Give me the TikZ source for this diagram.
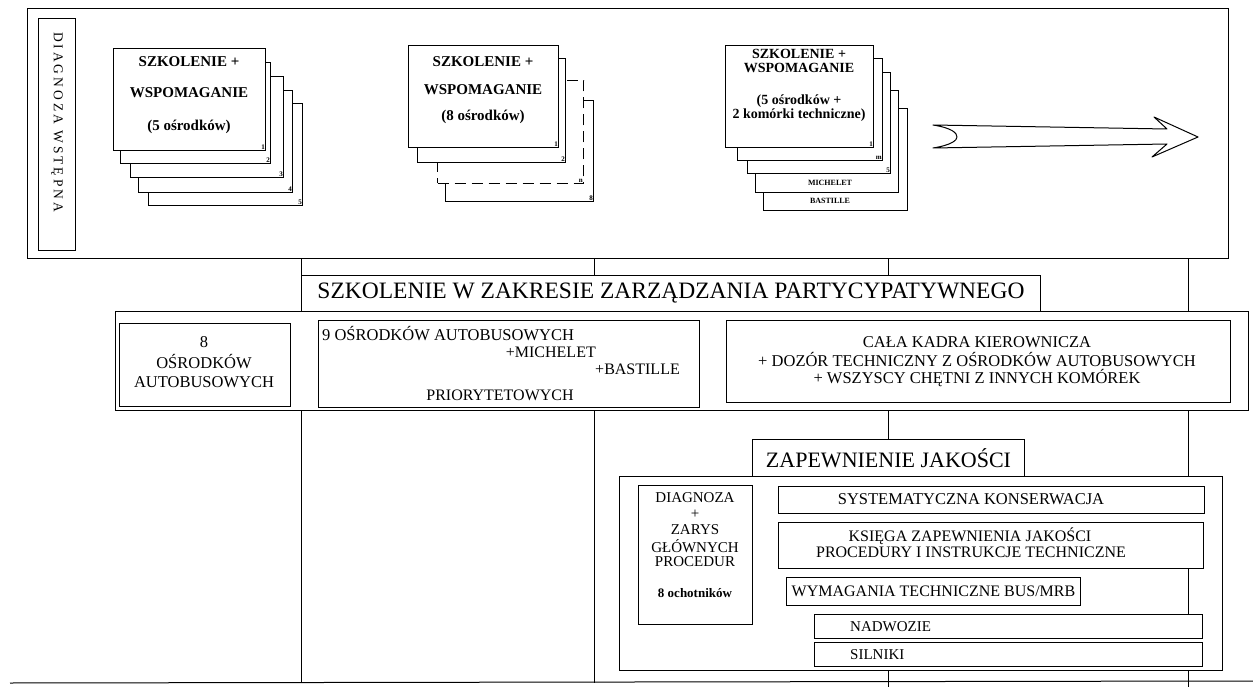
\documentclass[tikz,border=0pt]{standalone}
\usepackage{fontspec}
\setmainfont{Liberation Serif}
\usetikzlibrary{calc}
\newcommand\bx[6][]{\node[box,#1,anchor=north west,minimum width={#4pt-#2pt},minimum height={#5pt-#3pt}] (#6) at (#2,#3) {};}
\newcommand\fs[1]{\fontsize{#1}{#1}\selectfont}
\begin{document}
\begin{tikzpicture}[x=1pt,y=-1pt,
  box/.style={draw,line width=1pt,fill=white,inner sep=0pt},
  dbox/.style={box,dash pattern=on 11pt off 6pt},
  ln/.style={line width=1pt},
  t/.style={inner sep=0pt,font=\fs{16}},
  td/.style={inner sep=0pt,font=\fs{15}},
  tb/.style={inner sep=0pt,font=\fs{15}\bfseries},
  tc/.style={inner sep=0pt,font=\fs{14}\bfseries},
  big/.style={inner sep=0pt,font=\fs{22}},
  num/.style={inner sep=1pt,font=\fs{7}\bfseries,anchor=south east},
  strip/.style={inner sep=0pt,font=\fs{8}\bfseries}]
\useasboundingbox (0,0) rectangle (1253,687);
% columns and bottom
\coordinate (colA) at (301,0);
\coordinate (colB) at (594,0);
\coordinate (colC) at (888,0);
\coordinate (colD) at (1188,0);
\coordinate (bot) at (0,687);
\coordinate (bl) at (10,683);
\coordinate (br) at (1253,681);
\draw[ln] (bl) -- (br);

% top box
\bx{27}{8}{1228}{258}{topbox}
\bx{38}{18}{75}{250}{diagbox}
\node[rotate=-90,inner sep=0pt,font=\fs{13.5}\addfontfeature{LetterSpace=22}] (diagt) at (57,122) {DIAGNOZA WSTĘPNA};

% stack 1
\bx{148}{103}{302}{205}{s1e}
\bx{138}{90}{292}{192}{s1d}
\bx{130}{76}{283}{177}{s1c}
\bx{120}{62}{270}{163}{s1b}
\bx{113}{48}{265}{150}{s1a}
\node[num] (s1an) at (s1a.south east) {1};
\node[num] (s1bn) at (s1b.south east) {2};
\node[num] (s1cn) at (s1c.south east) {3};
\node[num] (s1dn) at (s1d.south east) {4};
\node[num] (s1en) at (s1e.south east) {5};
\node[tb] (s1t1) at (189,62) {SZKOLENIE +};
\node[tb] (s1t2) at (189,93) {WSPOMAGANIE};
\node[tb] (s1t3) at (189,127) {(5 ośrodków)};

% stack 2
\bx{445}{100}{593}{201}{s2d}
\bx[dbox]{437}{80}{583}{183}{s2c}
\bx{417}{58}{565}{162}{s2b}
\bx{408}{45}{558}{147}{s2a}
\node[num] (s2an) at (s2a.south east) {1};
\node[num] (s2bn) at (s2b.south east) {2};
\node[num] (s2cn) at (s2c.south east) {n};
\node[num] (s2dn) at (s2d.south east) {8};
\node[tb] (s2t1) at (483,62) {SZKOLENIE +};
\node[tb] (s2t2) at (483,90) {WSPOMAGANIE};
\node[tb] (s2t3) at (483,117) {(8 ośrodków)};

% stack 3
\bx{763}{108}{907}{210}{s3e}
\bx{755}{90}{898}{192}{s3d}
\bx{747}{72}{890}{173}{s3c}
\bx{737}{58}{882}{160}{s3b}
\bx{725}{45}{873}{147}{s3a}
\node[num] (s3an) at (s3a.south east) {1};
\node[num] (s3bn) at (s3b.south east) {m};
\node[num] (s3cn) at (s3c.south east) {5};
\node[strip] (s3dt) at (830,183) {MICHELET};
\node[strip] (s3et) at (830,201) {BASTILLE};
\node[tc] (s3t1) at (799,54) {SZKOLENIE +};
\node[tc] (s3t2) at (799,68) {WSPOMAGANIE};
\node[tc] (s3t3) at (799,101) {(5 ośrodków +};
\node[tc] (s3t4) at (799,115) {2 komórki techniczne)};

% big arrow
\draw[ln,line join=round] (933,125) -- (1167,129) -- (1154,117) -- (1198,137) -- (1152,157) -- (1167,144) -- (933,148)
  .. controls (952,145) and (957,140) .. (957,137) .. controls (957,133) and (952,128) .. (933,125) -- cycle;

% middle
\bx{115}{311}{1248}{410}{midbox}
\bx{301}{275}{1040}{311}{header}
\node[big,font=\fs{23.5}] (headt) at (header.center) {SZKOLENIE W ZAKRESIE ZARZĄDZANIA PARTYCYPATYWNEGO};
\bx{119}{323}{290}{406}{boxA}
\node[t,font=\fs{16.5}] (a1) at (204,342) {8};
\node[t,font=\fs{16.5}] (a2) at (204,362) {OŚRODKÓW};
\node[t,font=\fs{16.5}] (a3) at (204,382) {AUTOBUSOWYCH};
\bx{318}{320}{699}{407}{boxB}
\node[t,font=\fs{16.5},anchor=west] (b1) at (322,334) {9 OŚRODKÓW AUTOBUSOWYCH};
\node[t,anchor=east] (b2) at (596,352) {+MICHELET};
\node[t,anchor=east] (b3) at (680,369) {+BASTILLE};
\node[t] (b4) at (500,395) {PRIORYTETOWYCH};
\bx{726}{320}{1230}{402}{boxC}
\node[t,font=\fs{16.5}] (c1) at (977,342) {CAŁA KADRA KIEROWNICZA};
\node[t,font=\fs{16.5}] (c2) at (977,360) {+ DOZÓR TECHNICZNY Z OŚRODKÓW AUTOBUSOWYCH};
\node[t,font=\fs{16.5}] (c3) at (977,378) {+ WSZYSCY CHĘTNI Z INNYCH KOMÓREK};

% quality
\bx{752}{439}{1024}{476}{zap}
\node[big] (zapt) at (zap.center) {ZAPEWNIENIE JAKOŚCI};
\bx{619}{476}{1222}{670}{qa}
\bx{638}{485}{752}{624}{diag2}
\node[td] (d1) at (695,498) {DIAGNOZA};
\node[td] (d2) at (695,514) {+};
\node[td] (d3) at (695,530) {ZARYS};
\node[td] (d4) at (695,546) {GŁÓWNYCH};
\node[td] (d5) at (695,562) {PROCEDUR};
\node[inner sep=0pt,font=\fs{13}\bfseries] (d6) at (695,593) {8 ochotników};
\bx{778}{486}{1204}{513}{syst}
\node[t,font=\fs{16.5}] (syt) at (971,499) {SYSTEMATYCZNA KONSERWACJA};
\bx{778}{522}{1203}{568}{ksiega}
\node[t] (k1) at (970,536) {KSIĘGA ZAPEWNIENIA JAKOŚCI};
\node[t] (k2) at (971,552) {PROCEDURY I INSTRUKCJE TECHNICZNE};
\bx{786}{577}{1080}{605}{wym}
\node[t] (wt) at (wym.center) {WYMAGANIA TECHNICZNE BUS/MRB};
\bx{814}{614}{1202}{638}{nadw}
\node[t,font=\fs{15},anchor=west] (nt) at (850,627) {NADWOZIE};
\bx{814}{642}{1202}{666}{siln}
\node[t,font=\fs{15},anchor=west] (st) at (850,655) {SILNIKI};

% connectors
\draw[ln] (colA |- topbox.south) -- (colA |- header.north);
\draw[ln] (colB |- topbox.south) -- (colB |- header.north);
\draw[ln] (colC |- topbox.south) -- (colC |- header.north);
\draw[ln] (colD |- topbox.south) -- (colD |- midbox.north);
\draw[ln] (colA |- midbox.south) -- (colA |- bl);
\draw[ln] (colB |- midbox.south) -- (colB |- bl);
\draw[ln] (colC |- midbox.south) -- (colC |- zap.north);
\draw[ln] (colD |- midbox.south) -- (colD |- qa.north);
\draw[ln] (colD |- ksiega.south) -- (colD |- nadw.north);
\draw[ln] (colC |- qa.south) -- (colC |- bot);
\draw[ln] (colD |- qa.south) -- (colD |- bot);
\end{tikzpicture}
\end{document}
